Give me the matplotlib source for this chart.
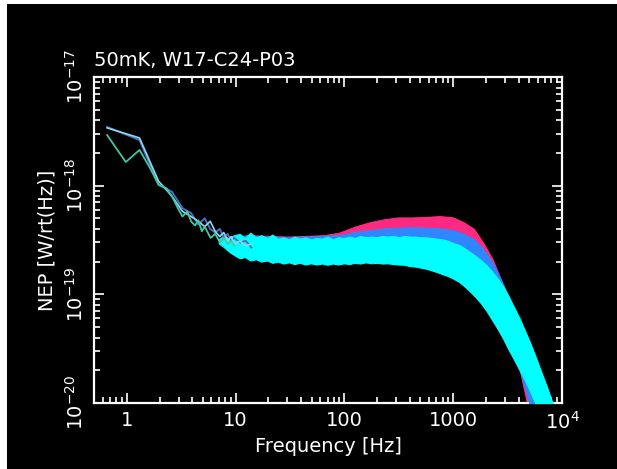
import numpy as np
import matplotlib.pyplot as plt
from matplotlib.patches import Rectangle
from matplotlib.ticker import FixedLocator, LogLocator, NullFormatter

# low-frequency traces (NEP in units of 1e-18 W/rt(Hz))
f_line = [0.66, 1.31, 1.96, 2.6, 3.25, 3.9, 4.55, 5.2, 5.85, 6.5, 7.15, 7.8,
          8.45, 9.1, 9.75, 11.0, 12.4, 14.0]
nep_dark = [3.47, 2.63, 1.02, 0.88, 0.62, 0.56, 0.44, 0.50, 0.40, 0.37, 0.40,
            0.33, 0.36, 0.31, 0.33, 0.30, 0.31, 0.27]
nep_light = [3.40, 2.75, 1.10, 0.80, 0.58, 0.52, 0.47, 0.42, 0.47, 0.38, 0.34,
             0.37, 0.31, 0.34, 0.29, 0.31, 0.28, 0.29]
f_teal = [0.66, 0.98, 1.31, 1.64, 1.96, 2.3, 2.6, 2.95, 3.25, 3.6, 3.9, 4.25,
          4.55, 4.9, 5.2, 5.9, 6.5, 7.2, 7.8, 8.5, 9.1, 9.8]
nep_teal = [2.92, 1.65, 2.13, 1.45, 1.02, 0.95, 0.80, 0.62, 0.52, 0.58, 0.47,
            0.43, 0.48, 0.38, 0.42, 0.33, 0.36, 0.30, 0.33, 0.29, 0.31, 0.28]

# noise bands (units of 1e-19 W/rt(Hz)): upper / lower envelope
f_cyan = [7.0, 7.7, 8.6, 9.7, 10.9, 12.2, 13.7, 15.4, 17.3, 19.4, 21.8, 24.5,
          27.5, 30.9, 34.7, 39, 43.8, 49.2, 55.3, 62.1, 69.8, 78.4, 88, 98.9,
          111, 125, 140, 157, 177, 199, 223, 251, 281, 316, 355, 399, 448,
          503, 565, 635, 713, 801, 900, 1010, 1135, 1275, 1430, 1610, 1810,
          2030, 2280, 2560, 2880, 3230, 3630, 4080, 4580, 5150, 5780, 6490,
          7290, 8190, 9200]
cyan_hi = [3.2, 3.45, 3.3, 3.5, 3.6, 3.3, 3.7, 3.35, 3.5, 3.3, 3.55, 3.25,
           3.35, 3.2, 3.4, 3.25, 3.35, 3.2, 3.3, 3.25, 3.4, 3.2, 3.35, 3.3,
           3.4, 3.3, 3.45, 3.35, 3.4, 3.35, 3.45, 3.4, 3.45, 3.35, 3.45, 3.4,
           3.4, 3.35, 3.35, 3.3, 3.25, 3.2, 3.1, 2.95, 2.85, 2.65, 2.45, 2.25,
           2.05, 1.85, 1.62, 1.4, 1.18, 0.96, 0.76, 0.6, 0.46, 0.35, 0.26,
           0.19, 0.14, 0.1, 0.072]
cyan_lo = [2.95, 2.75, 2.5, 2.3, 2.15, 2.2, 2.05, 2.1, 2.0, 2.05, 1.95, 2.0,
           1.92, 1.97, 1.9, 1.95, 1.88, 1.93, 1.88, 1.92, 1.87, 1.92, 1.88,
           1.93, 1.9, 1.95, 1.92, 1.97, 1.93, 1.95, 1.92, 1.93, 1.9, 1.88,
           1.87, 1.82, 1.8, 1.76, 1.72, 1.66, 1.6, 1.53, 1.47, 1.39, 1.3,
           1.18, 1.06, 0.94, 0.82, 0.7, 0.58, 0.48, 0.39, 0.31, 0.25, 0.2,
           0.16, 0.125, 0.095, 0.072, 0.055, 0.041, 0.031]

f_wide = [9, 13, 20, 30, 45, 65, 90, 125, 170, 230, 310, 420, 560, 750, 1000,
          1250, 1550, 1900, 2300, 2800, 3400, 4100, 5000, 6000]
pink_hi = [3.3, 3.5, 3.45, 3.4, 3.45, 3.5, 3.7, 4.2, 4.6, 4.9, 5.1, 5.1, 5.15,
           5.25, 5.1, 4.6, 4.0, 2.95, 2.1, 1.3, 0.85, 0.34, 0.115, 0.045]
pink_lo = [2.4, 2.2, 2.05, 2.0, 1.95, 1.95, 1.95, 2.0, 2.0, 2.0, 1.95, 1.9,
           1.8, 1.68, 1.5, 1.3, 1.05, 0.85, 0.62, 0.45, 0.32, 0.2, 0.08, 0.03]
blue_hi = [3.3, 3.5, 3.4, 3.35, 3.4, 3.45, 3.5, 3.75, 3.9, 4.05, 4.1, 4.15,
           4.1, 4.05, 3.9, 3.6, 3.2, 2.6, 1.95, 1.3, 0.8, 0.45, 0.22, 0.1]
blue_lo = [2.4, 2.2, 2.05, 2.0, 1.95, 1.95, 1.95, 2.0, 2.0, 2.0, 1.95, 1.9,
           1.8, 1.68, 1.5, 1.3, 1.05, 0.85, 0.62, 0.45, 0.32, 0.2, 0.1, 0.04]

W, H = 617, 469
fig = plt.figure(figsize=(W / 100, H / 100), dpi=100, facecolor='white')
fig.patches.append(Rectangle((7 / W, 0), 1, (H - 4) / H, transform=fig.transFigure,
                             facecolor='black', edgecolor='none', zorder=-10))

ax = fig.add_axes([94 / W, (H - 403) / H, (562 - 94) / W, (403 - 77) / H])
ax.set_zorder(1)
ax.set_facecolor('black')
ax.set_xscale('log')
ax.set_yscale('log')

e19 = 1e-19
ax.fill_between(f_wide, np.array(pink_lo) * e19, np.array(pink_hi) * e19,
                color='#ff2a80', lw=0.8, zorder=2)
ax.fill_between(f_wide, np.array(blue_lo) * e19, np.array(blue_hi) * e19,
                color='#2f86ff', lw=0.8, zorder=3)
ax.fill_between(f_cyan, np.array(cyan_lo) * e19, np.array(cyan_hi) * e19,
                color='#00ffff', lw=0.8, zorder=4)

e18 = 1e-18
ax.plot(f_line, np.array(nep_dark) * e18, color='#4f6db8', lw=1.4, zorder=5)
ax.plot(f_line, np.array(nep_light) * e18, color='#8fd8f0', lw=1.2, zorder=5)
ax.plot(f_teal, np.array(nep_teal) * e18, color='#3fc8a8', lw=1.3, zorder=5)

ax.set_xlim(0.5, 1e4)
ax.set_ylim(1e-20, 1e-17)

for s in ax.spines.values():
    s.set_color('white')
    s.set_linewidth(1.6)

ax.tick_params(which='both', direction='in', colors='white', top=True,
               right=True, width=1.2)
ax.tick_params(which='major', length=7)
ax.tick_params(which='minor', length=4)
ax.tick_params(axis='x', which='major', labelsize=14, pad=6)
ax.tick_params(axis='y', which='major', labelsize=14, pad=5)

ax.xaxis.set_major_locator(FixedLocator([1, 10, 100, 1000, 1e4]))
ax.set_xticklabels(['1', '10', '100', '1000', '10$^4$'])
ax.xaxis.set_minor_locator(LogLocator(base=10, subs=np.arange(2, 10), numticks=20))
ax.xaxis.set_minor_formatter(NullFormatter())

ax.yaxis.set_major_locator(FixedLocator([1e-20, 1e-19, 1e-18, 1e-17]))
ax.set_yticklabels(['10$^{-20}$', '10$^{-19}$', '10$^{-18}$', '10$^{-17}$'],
                   rotation=90, va='center')
ax.yaxis.set_minor_locator(LogLocator(base=10, subs=np.arange(2, 10), numticks=20))
ax.yaxis.set_minor_formatter(NullFormatter())

ax.set_xlabel('Frequency [Hz]', color='white', fontsize=14, labelpad=3)
ax.set_ylabel('NEP [W/rt(Hz)]', color='white', fontsize=14, labelpad=6)
ax.text(0.0, 1.02, '50mK, W17-C24-P03', transform=ax.transAxes, color='white',
        fontsize=14, ha='left', va='bottom')

fig.savefig('out.png', dpi=100, facecolor=fig.get_facecolor())
